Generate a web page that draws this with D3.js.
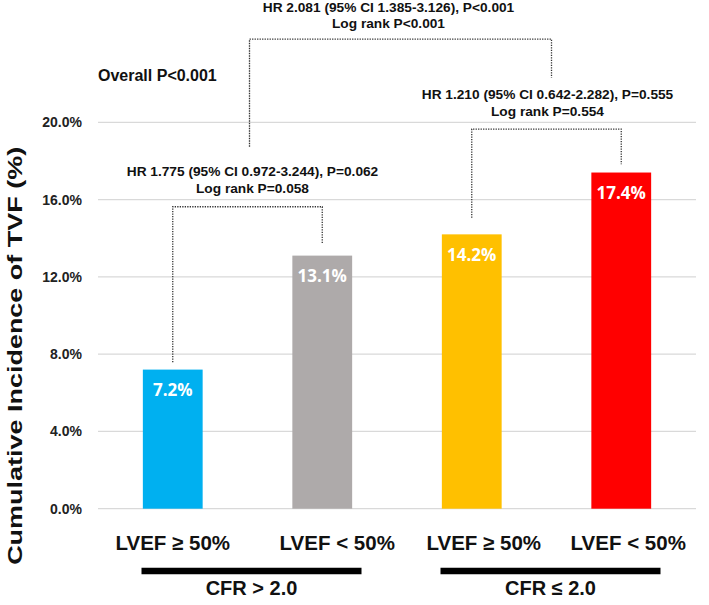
<!DOCTYPE html>
<html>
<head>
<meta charset="utf-8">
<script src="https://cdn.jsdelivr.net/npm/d3@7"></script>
<style>
  html, body { margin: 0; padding: 0; background: #fff; }
  svg { display: block; font-family: "Liberation Sans", Arial, sans-serif; font-weight: bold; }
</style>
</head>
<body>
<svg id="chart" width="709" height="605"></svg>
<script>
// ---- data ----
const categories = ["LVEF \u2265 50%", "LVEF < 50%", "LVEF \u2265 50%", "LVEF < 50%"];
const values = [7.2, 13.1, 14.2, 17.4];
const valueLabels = ["7.2%", "13.1%", "14.2%", "17.4%"];
const barColors = ["#00B0F0", "#AEAAAA", "#FFC000", "#FF0000"];
const yTicks = [0, 4, 8, 12, 16, 20];
const yTickLabels = ["0.0%", "4.0%", "8.0%", "12.0%", "16.0%", "20.0%"];
const groupLabels = ["CFR > 2.0", "CFR \u2264 2.0"];
const groupMembers = [[0, 1], [2, 3]];
const yTitle = "Cumulative Incidence of TVF (%)";
const overallText = "Overall P<0.001";
// comparison brackets: ends (bar index or group index), heights in % units
const brackets = [
  { from: 0, to: 1, fromGroup: false, top: 15.63, fromBottom: 7.58, toBottom: 13.74,
    lines: ["HR 1.775 (95% CI 0.972-3.244), P=0.062", "Log rank P=0.058"], dx: 5, gap: 14 },
  { from: 2, to: 3, fromGroup: false, top: 19.65, fromBottom: 15.06, toBottom: 17.83,
    lines: ["HR 1.210 (95% CI 0.642-2.282), P=0.555", "Log rank P=0.554"], dx: 1, gap: 13.3 },
  { from: 0, to: 1, fromGroup: true, top: 24.3, fromBottom: 18.74, toBottom: 22.3,
    lines: ["HR 2.081 (95% CI 1.385-3.126), P<0.001", "Log rank P<0.001"], dx: -12, gap: 11.3 }
];
const xLabelShift = [0, 15, 12, 7];

// ---- layout ----
const svg = d3.select("#chart");
const plot = { left: 98, right: 696, top: 122.3, bottom: 508.7 };

const x = d3.scaleBand().domain(d3.range(categories.length))
  .range([plot.left, plot.right]).paddingInner(0.6).paddingOuter(0.3);
const y = d3.scaleLinear().domain([0, 20]).range([plot.bottom, plot.top]);

// gridlines
svg.append("g").selectAll("line").data(yTicks).join("line")
  .attr("x1", plot.left).attr("x2", plot.right)
  .attr("y1", d => y(d)).attr("y2", d => y(d))
  .attr("stroke", "#D9D9D9").attr("stroke-width", 1.2);

// y axis tick labels (via d3 axis)
const yAxis = d3.axisLeft(y).tickValues(yTicks)
  .tickFormat((d, i) => yTickLabels[i]).tickSize(0).tickPadding(16);
const ya = svg.append("g").attr("transform", `translate(${plot.left},0)`).call(yAxis);
ya.select(".domain").remove();
ya.attr("font-family", null).attr("font-size", null);
ya.selectAll("text").style("font-size", "14px").attr("fill", "#222")
  .style("font-family", "'Liberation Sans', Arial, sans-serif").style("font-weight", "bold");

// y title
svg.append("text")
  .attr("transform", `translate(21.5, ${(146.7 + 565) / 2}) rotate(-90)`)
  .attr("text-anchor", "middle").style("font-size", "19.5px").attr("fill", "#111")
  .attr("textLength", 418).attr("lengthAdjust", "spacingAndGlyphs")
  .text(yTitle);

// bars
svg.append("g").selectAll("rect").data(values).join("rect")
  .attr("x", (d, i) => x(i)).attr("width", x.bandwidth())
  .attr("y", d => y(d)).attr("height", d => y(0) - y(d))
  .attr("fill", (d, i) => barColors[i]);

// value labels
svg.append("g").selectAll("text").data(values).join("text")
  .attr("x", (d, i) => x(i) + x.bandwidth() / 2)
  .attr("y", d => y(d) + 26.5)
  .attr("text-anchor", "middle").attr("fill", "#fff")
  .style("font-family", "'Open Sans', sans-serif").style("font-weight", "bold")
  .style("font-size", "17px")
  .text((d, i) => valueLabels[i]);

// x labels
svg.append("g").selectAll("text").data(categories).join("text")
  .attr("x", (d, i) => x(i) + x.bandwidth() / 2 + xLabelShift[i])
  .attr("y", 550)
  .attr("text-anchor", "middle").style("font-size", "20.5px").attr("fill", "#111")
  .text(d => d);

// group lines & labels
const groupCenter = g => {
  const [a, b] = groupMembers[g];
  return (x(a) + x(b) + x.bandwidth()) / 2;
};
groupLabels.forEach((lab, g) => {
  const c = groupCenter(g) + 4;
  svg.append("line").attr("x1", c - 110).attr("x2", c + 110)
    .attr("y1", 571).attr("y2", 571).attr("stroke", "#000").attr("stroke-width", 6.5);
  svg.append("text").attr("x", c).attr("y", 595).attr("text-anchor", "middle")
    .style("font-size", "20px").attr("fill", "#111").text(lab);
});

// overall text
svg.append("text").attr("x", plot.left).attr("y", 81)
  .style("font-size", "16px").attr("fill", "#111").text(overallText);

// brackets
const barCenter = i => x(i) + x.bandwidth() / 2;
const groupMid = g => {
  const [a, b] = groupMembers[g];
  return (barCenter(a) + barCenter(b)) / 2;
};
brackets.forEach(b => {
  const xa = b.fromGroup ? groupMid(b.from) + 2 : barCenter(b.from);
  const xb = b.fromGroup ? groupMid(b.to) + 5 : barCenter(b.to);
  const yt = y(b.top);
  const path = d3.path();
  path.moveTo(xa, y(b.fromBottom));
  path.lineTo(xa, yt);
  path.lineTo(xb, yt);
  path.lineTo(xb, y(b.toBottom));
  svg.append("path").attr("d", path.toString())
    .attr("fill", "none").attr("stroke", "#333").attr("stroke-width", 1.3)
    .attr("stroke-dasharray", "1.3 1.2");
  const cx = (xa + xb) / 2 + b.dx;
  const lineGap = 16.4;
  b.lines.forEach((t, k) => {
    svg.append("text").attr("x", cx)
      .attr("y", yt - b.gap - (b.lines.length - 1 - k) * lineGap)
      .attr("text-anchor", "middle").style("font-size", "13.7px").attr("fill", "#111")
      .text(t);
  });
});
</script>
</body>
</html>
